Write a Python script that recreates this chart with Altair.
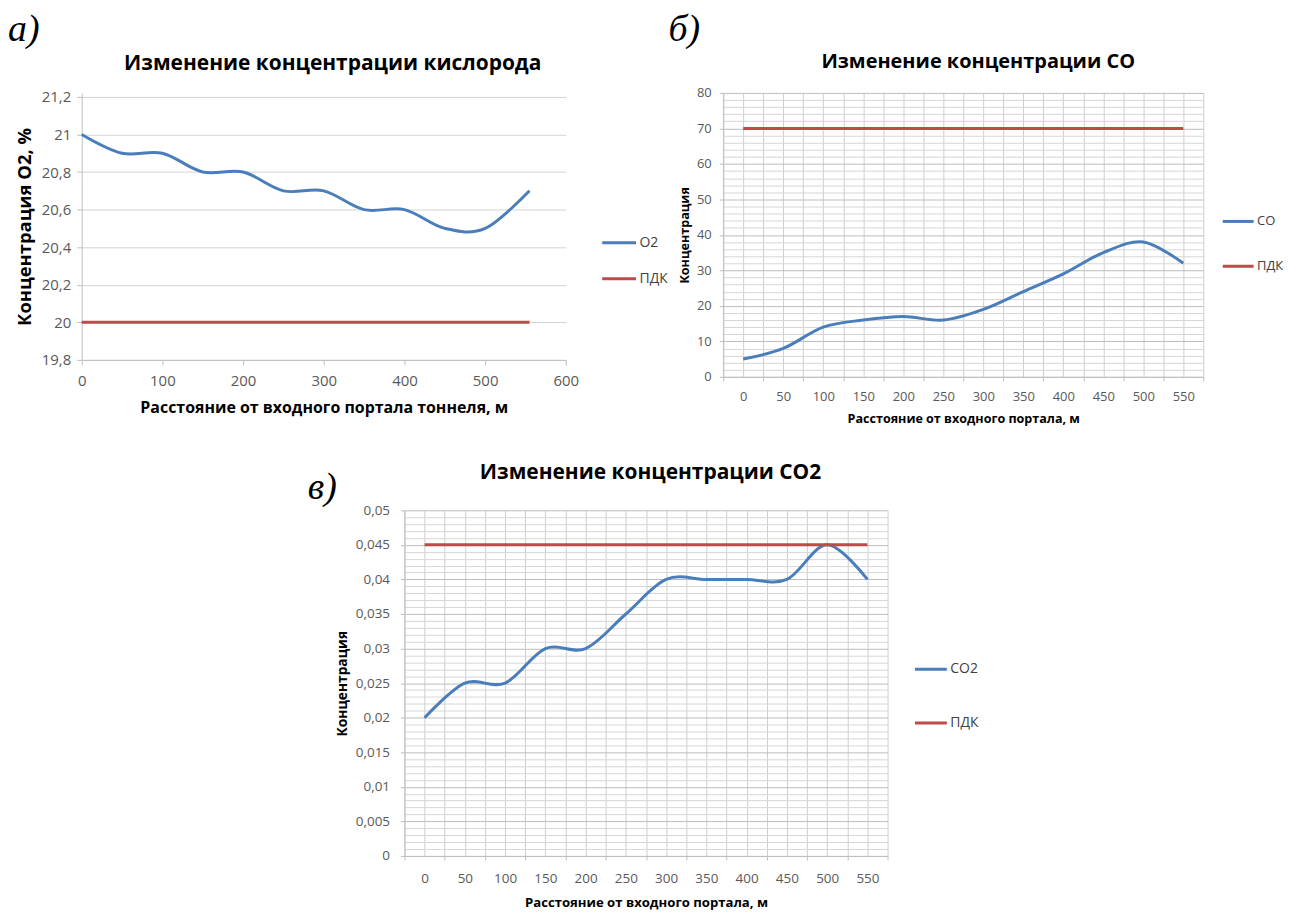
import altair as alt
import pandas as pd

FONT = "Open Sans"
SERIF = "Liberation Serif"
BLUE = "#4a7ebb"
RED = "#be4b48"
AXIS_C = "#bfbfbf"
GRID_C = "#d4d4d4"
GRID_MAJ = "#bdbdbd"
GRID_MIN = "#d6d6d6"
GRID_V = "#cfcfcf"
LABEL_C = "#595959"
LEGEND_C = "#404040"

# ---------------- Panel а: oxygen ----------------
o2_dist = [0, 50, 100, 150, 200, 250, 300, 350, 400, 450, 500, 555]
o2_conc = [21.0, 20.9, 20.9, 20.8, 20.8, 20.7, 20.7, 20.6, 20.6, 20.5, 20.5, 20.7]
o2_pdk = [20.0, 20.0, 20.0, 20.0, 20.0, 20.0, 20.0, 20.0, 20.0, 20.0, 20.0, 20.0]
o2_series = ["O2", "ПДК"]
o2_y_ticks = [19.8, 20.0, 20.2, 20.4, 20.6, 20.8, 21.0, 21.2]
o2_x_ticks = [0, 100, 200, 300, 400, 500, 600]

# ---------------- Panel б: CO ----------------
dist = [0, 50, 100, 150, 200, 250, 300, 350, 400, 450, 500, 550]
co_conc = [5, 8, 14, 16, 17, 16, 19, 24, 29, 35, 38, 32]
co_pdk = [70, 70, 70, 70, 70, 70, 70, 70, 70, 70, 70, 70]
co_series = ["CO", "ПДК"]
co_y_ticks = list(range(0, 81, 2))

# ---------------- Panel в: CO2 ----------------
co2_conc = [0.02, 0.025, 0.025, 0.03, 0.03, 0.035, 0.04, 0.04, 0.04, 0.04, 0.045, 0.04]
co2_pdk = [0.045, 0.045, 0.045, 0.045, 0.045, 0.045, 0.045, 0.045, 0.045, 0.045, 0.045, 0.045]
co2_series = ["CO2", "ПДК"]
co2_y_ticks = [round(i * 0.001, 3) for i in range(51)]

# category-axis grid (boundaries and centres of the Excel category slots)
cat_grid_ticks = list(range(-25, 576, 25))

x_title_short = "Расстояние от входного портала, м"


def long_df(xs, main, pdk, names):
    return pd.DataFrame({
        "x": xs + xs,
        "y": main + pdk,
        "series": [names[0]] * len(xs) + [names[1]] * len(xs),
    })


def text_mark(txt, x, y, size, font=FONT, weight="normal", style="normal", align="left"):
    return alt.Chart(pd.DataFrame({"t": [txt]})).mark_text(
        font=font, fontSize=size, fontWeight=weight, fontStyle=style,
        align=align, baseline="alphabetic", color="black"
    ).encode(text="t:N", x=alt.value(x), y=alt.value(y))


def legend(x, y, size, row_pad, font_size):
    return alt.Legend(
        title=None, orient="none", legendX=x, legendY=y,
        symbolType="stroke", symbolSize=size, symbolStrokeWidth=3,
        labelFont=FONT, labelFontSize=font_size, labelColor=LEGEND_C,
        labelOffset=2, rowPadding=row_pad, padding=0,
    )


def cat_x_axis(label_size, label_pad, title_size, title_pad):
    return alt.Axis(
        values=cat_grid_ticks, grid=True, gridColor=GRID_V,
        domainColor=AXIS_C, tickColor=AXIS_C, tickSize=4,
        tickOpacity={"condition": {"test": "datum.value % 50 !== 0", "value": 1}, "value": 0},
        labelExpr="datum.value % 50 === 0 ? datum.label : ''",
        labelFont=FONT, labelFontSize=label_size, labelColor=LABEL_C,
        labelPadding=label_pad, labelFlush=False, labelOverlap=False,
        title=x_title_short, titleFont=FONT, titleFontSize=title_size,
        titleFontWeight="bold", titleColor="black", titlePadding=title_pad,
    )


# ---------------- Panel а ----------------
line_a = alt.Chart(long_df(o2_dist, o2_conc, o2_pdk, o2_series)).mark_line(
    strokeWidth=3, interpolate="cardinal"
).encode(
    x=alt.X("x:Q", scale=alt.Scale(domain=[0, 600], nice=False, zero=False),
            axis=alt.Axis(values=o2_x_ticks, grid=False, domainColor=AXIS_C,
                          tickColor=AXIS_C, tickSize=5, labelFont=FONT,
                          labelFontSize=15, labelColor=LABEL_C, labelPadding=9,
                          labelFlush=False, labelOverlap=False,
                          title="Расстояние от входного портала тоннеля, м",
                          titleFont=FONT, titleFontSize=16, titleFontWeight="bold",
                          titleColor="black", titlePadding=11)),
    y=alt.Y("y:Q", scale=alt.Scale(domain=[19.8, 21.2212], nice=False, zero=False),
            axis=alt.Axis(values=o2_y_ticks, grid=True, gridColor=GRID_C,
                          domainColor=AXIS_C, tickColor=AXIS_C, tickSize=5,
                          labelExpr="replace(format(datum.value, '.1~f'), '.', ',')",
                          labelFont=FONT, labelFontSize=15, labelColor=LABEL_C,
                          labelPadding=6, labelFlush=False, labelOverlap=False,
                          title="Концентрация О2, %", titleFont=FONT,
                          titleFontSize=18.5, titleFontWeight="bold",
                          titleColor="black", titlePadding=7)),
    color=alt.Color("series:N", scale=alt.Scale(domain=o2_series, range=[BLUE, RED]),
                    legend=legend(521, 132, 1156, 10, 14)),
)

panel_a = alt.layer(
    line_a,
    text_mark("а)", -74, -52, 38, font=SERIF, style="italic"),
    text_mark("Изменение концентрации кислорода", 252, -23, 21, weight="bold", align="center"),
).properties(width=486, height=268)

# ---------------- Panel б ----------------
line_b = alt.Chart(long_df(dist, co_conc, co_pdk, co_series)).mark_line(
    strokeWidth=3, interpolate="cardinal"
).encode(
    x=alt.X("x:Q", scale=alt.Scale(domain=[-25, 575], nice=False, zero=False),
            axis=cat_x_axis(13, 10, 12.6, 9)),
    y=alt.Y("y:Q", scale=alt.Scale(domain=[0, 80], nice=False, zero=False),
            axis=alt.Axis(values=co_y_ticks, grid=True,
                          gridColor={"condition": {"test": "datum.value % 10 === 0", "value": GRID_MAJ}, "value": GRID_MIN},
                          domainColor=AXIS_C, tickColor=AXIS_C, tickSize=4,
                          tickOpacity={"condition": {"test": "datum.value % 10 === 0", "value": 1}, "value": 0},
                          labelExpr="datum.value % 10 === 0 ? datum.label : ''",
                          labelFont=FONT, labelFontSize=13, labelColor=LABEL_C,
                          labelPadding=8, labelFlush=False, labelOverlap=False,
                          title="Концентрация", titleFont=FONT, titleFontSize=12.6,
                          titleFontWeight="bold", titleColor="black", titlePadding=5)),
    color=alt.Color("series:N", scale=alt.Scale(domain=co_series, range=[BLUE, RED]),
                    legend=legend(500, 112, 961, 21, 13)),
)

panel_b = alt.layer(
    line_b,
    text_mark("б)", -55, -52, 38, font=SERIF, style="italic"),
    text_mark("Изменение концентрации CO", 256, -25, 20, weight="bold", align="center"),
).properties(width=482, height=285)

# ---------------- Panel в ----------------
major_co2 = "abs(datum.value * 200 - round(datum.value * 200)) < 0.000001"
line_c = alt.Chart(long_df(dist, co2_conc, co2_pdk, co2_series)).mark_line(
    strokeWidth=3, interpolate="cardinal"
).encode(
    x=alt.X("x:Q", scale=alt.Scale(domain=[-25, 575], nice=False, zero=False),
            axis=cat_x_axis(13.5, 12, 13.2, 11)),
    y=alt.Y("y:Q", scale=alt.Scale(domain=[0, 0.05], nice=False, zero=False),
            axis=alt.Axis(values=co2_y_ticks, grid=True,
                          gridColor={"condition": {"test": major_co2, "value": GRID_MAJ}, "value": GRID_MIN},
                          domainColor=AXIS_C, tickColor=AXIS_C, tickSize=4,
                          tickOpacity={"condition": {"test": major_co2, "value": 1}, "value": 0},
                          labelExpr=major_co2 + " ? replace(format(datum.value, '.3~f'), '.', ',') : ''",
                          labelFont=FONT, labelFontSize=13.5, labelColor=LABEL_C,
                          labelPadding=11, labelFlush=False, labelOverlap=False,
                          title="Концентрация", titleFont=FONT, titleFontSize=13.8,
                          titleFontWeight="bold", titleColor="black", titlePadding=6)),
    color=alt.Color("series:N", scale=alt.Scale(domain=co2_series, range=[BLUE, RED]),
                    legend=legend(511, 142, 1024, 29, 14)),
)

panel_c = alt.layer(
    line_c,
    text_mark("в)", -97, -11, 38, font=SERIF, style="italic"),
    text_mark("Изменение концентрации CO2", 247, -31, 21, weight="bold", align="center"),
).properties(width=485, height=347)

spacer = alt.Chart(pd.DataFrame({"t": [""]})).mark_text().encode(
    text="t:N"
).properties(width=227, height=10)

top = alt.hconcat(panel_a, panel_b, spacing=0).resolve_scale(color="independent")
bottom = alt.hconcat(spacer, panel_c, spacing=0).resolve_scale(color="independent")

chart = alt.vconcat(top, bottom, spacing=37).resolve_scale(
    color="independent"
).properties(
    padding={"left": 0, "top": 1.5, "right": 0, "bottom": 0}
).configure(font=FONT).configure_view(stroke=None)

chart.save("out.html", embed_options={"renderer": "svg", "actions": False})
